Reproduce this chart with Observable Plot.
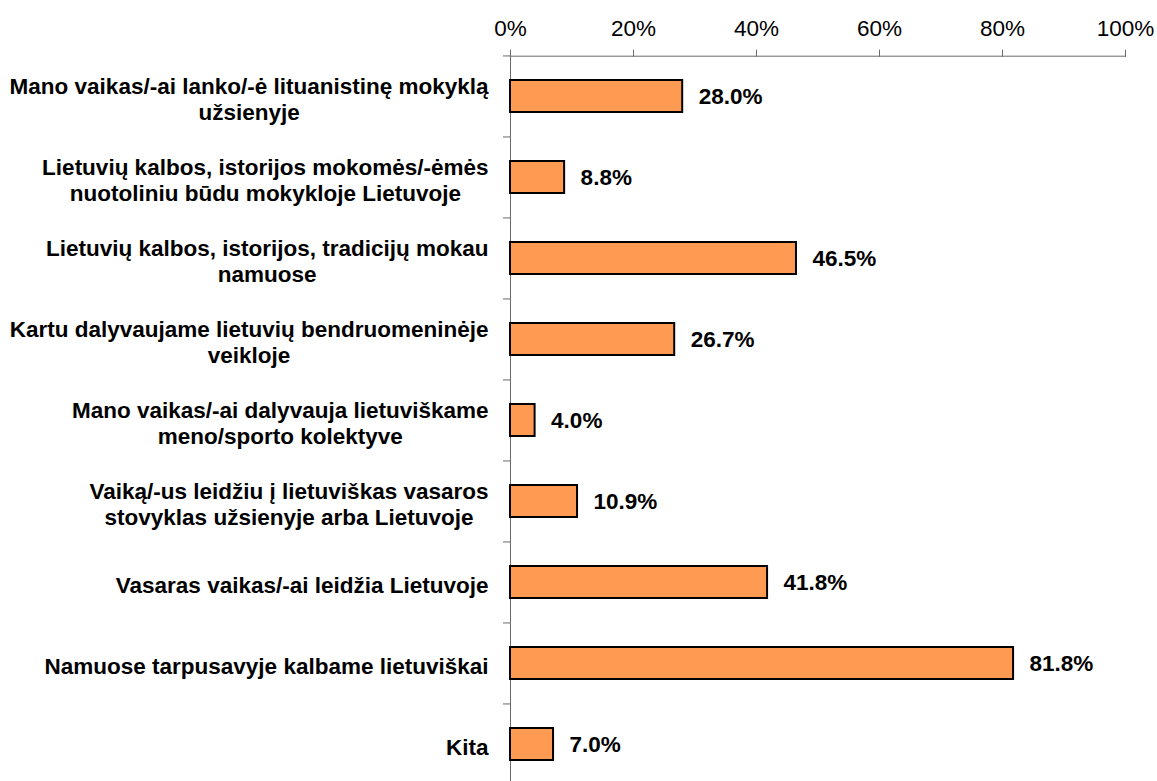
<!DOCTYPE html>
<html><head><meta charset="utf-8">
<script src="https://cdn.jsdelivr.net/npm/d3@7"></script>
<script src="https://cdn.jsdelivr.net/npm/@observablehq/plot@0.6"></script>
<style>body{margin:0;background:#fff}</style>
</head><body><div id="chart"></div>
<script>
const categories = [
  "Mano vaikas/-ai lanko/-ė lituanistinę mokyklą\nužsienyje",
  "Lietuvių kalbos, istorijos mokomės/-ėmės\nnuotoliniu būdu mokykloje Lietuvoje",
  "Lietuvių kalbos, istorijos, tradicijų mokau\nnamuose",
  "Kartu dalyvaujame lietuvių bendruomeninėje\nveikloje",
  "Mano vaikas/-ai dalyvauja lietuviškame\nmeno/sporto kolektyve",
  "Vaiką/-us leidžiu į lietuviškas vasaros\nstovyklas užsienyje arba Lietuvoje",
  "Vasaras vaikas/-ai leidžia Lietuvoje",
  "Namuose tarpusavyje kalbame lietuviškai",
  "Kita"
];
const values = [28.0, 8.8, 46.5, 26.7, 4.0, 10.9, 41.8, 81.8, 7.0];
const xTicks = [0, 20, 40, 60, 80, 100];

const data = categories.map((c, i) => ({cat: c, value: values[i]}));

const FONT = "'Liberation Sans', Arial, sans-serif";
const FS = 22.5;
const ctx = document.createElement("canvas").getContext("2d");
ctx.font = `bold ${FS}px 'Liberation Sans', Arial`;
const blockWidth = c => Math.max(...c.split("\n").map(l => ctx.measureText(l).width));

const yTop = 55.7, yBottom = 785.6;
const step = (yBottom - yTop) / categories.length;
const axisColor = "#6a6a6a";
const labelGap = 22;

const labelMarks = categories.map(c => Plot.text([c], {
  x: () => 0, y: d => d, text: d => d,
  textAnchor: "middle", lineAnchor: "middle", lineHeight: 1.16,
  dx: -(labelGap + blockWidth(c) / 2), dy: 2,
  fontWeight: "bold", fontSize: FS, fill: "black"
}));

const chart = Plot.plot({
  width: 1157,
  height: 781,
  marginLeft: 510,
  marginRight: 32,
  marginTop: yTop,
  marginBottom: 0,
  style: {fontFamily: FONT, fontSize: FS + "px", background: "white", color: "black"},
  x: {domain: [0, 100]},
  y: {domain: categories, range: [yTop, yBottom], paddingInner: 0.6, paddingOuter: 0.3},
  marks: [
    Plot.frame({anchor: "top", stroke: axisColor}),
    Plot.ruleX([0], {stroke: axisColor}),
    Plot.axisX({anchor: "top", ticks: xTicks, tickFormat: d => d + "%", tickSize: 7, tickPadding: 13,
      fontSize: FS, stroke: axisColor, fill: "black", label: null}),
    Plot.axisY({tickSize: 7, tickFormat: () => "", dy: -step / 2, stroke: axisColor, label: null}),
    Plot.barX(data, {x: "value", y: "cat", fill: "#FF9A52", stroke: "black", strokeWidth: 2}),
    Plot.text(data, {x: "value", y: "cat", text: d => d.value.toFixed(1) + "%", dx: 16,
      textAnchor: "start", fontWeight: "bold", fontSize: FS, fill: "black"}),
    ...labelMarks
  ]
});
document.getElementById("chart").appendChild(chart);
</script>
</body></html>
